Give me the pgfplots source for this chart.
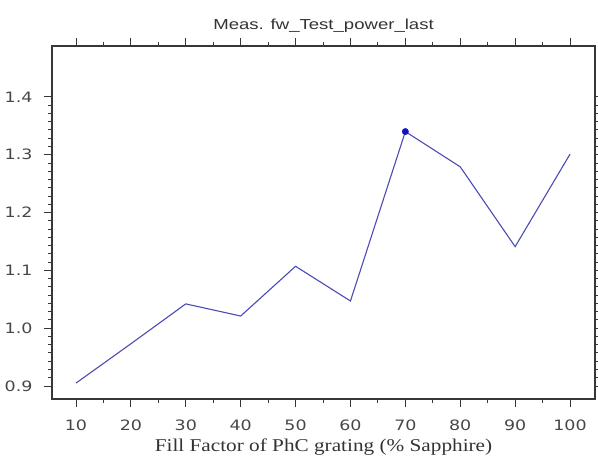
\documentclass[border=0pt]{standalone}
\usepackage{fontspec}
\usepackage{pgfplots}
\pgfplotsset{compat=1.18}
\newfontfamily\titlefont[FakeStretch=1.28]{Liberation Sans}
\newfontfamily\tickfont[FakeStretch=1.22]{DejaVu Sans}
\newfontfamily\labelfont[FakeStretch=1.18]{Liberation Serif}
\definecolor{linec}{RGB}{75,75,180}
\definecolor{axc}{RGB}{55,55,55}
\begin{document}
\begin{tikzpicture}
\useasboundingbox (-52bp,-62bp) rectangle (546bp,399bp);
\begin{axis}[
  at={(0,0)}, anchor=south west,
  scale only axis, width=543bp, height=353bp,
  xmin=5.63, xmax=104.55, ymin=0.8775, ymax=1.488,
  xtick={10,20,...,100},
  ytick={0.9,1.0,1.1,1.2,1.3,1.4},
  minor x tick num=1, minor y tick num=6,
  tick align=outside,
  major tick length=8bp, minor tick length=4bp,
  axis line style={axc, line width=1.3bp},
  every tick/.style={axc, line width=0.9bp},
  /pgf/number format/assume math mode=true,
  ticklabel style={font=\tickfont\fontsize{14.3bp}{16bp}\selectfont, text=black!72},
  xlabel={Fill Factor of PhC grating (\% Sapphire)},
  xlabel style={font=\labelfont\fontsize{18bp}{20bp}\selectfont, text=black!80, at={(axis description cs:0.5,-0.136)}, anchor=center},
  title={Meas. fw\_Test\_power\_last},
  title style={font=\titlefont\fontsize{14.5bp}{16bp}\selectfont, text=black!80, yshift=4bp},
  xticklabel style={yshift=-9bp},
  yticklabel style={xshift=-8bp, /pgf/number format/.cd, fixed, fixed zerofill, precision=1},
]
\addplot[color=linec, line width=1.1bp] coordinates {
  (10,0.905) (20,0.973) (30,1.042) (40,1.021) (50,1.107)
  (60,1.047) (70,1.340) (80,1.279) (90,1.141) (100,1.301)
};
\addplot[only marks, mark=*, mark size=3.2bp, color={rgb,255:red,20;green,20;blue,190}] coordinates {(70,1.340)};
\end{axis}
\end{tikzpicture}
\end{document}
